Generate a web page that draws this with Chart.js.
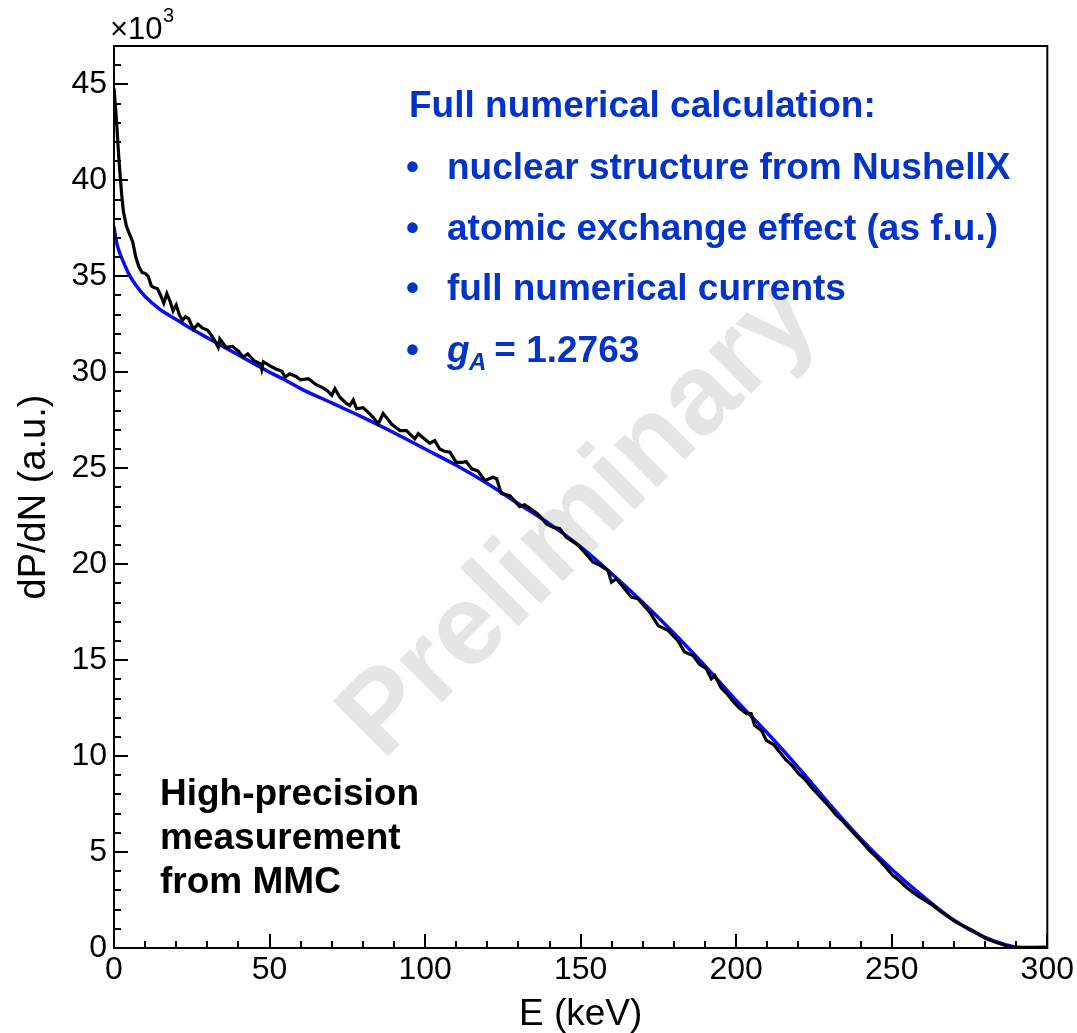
<!DOCTYPE html>
<html>
<head>
<meta charset="utf-8">
<script src="https://cdn.jsdelivr.net/npm/chart.js@4.4.1/dist/chart.umd.min.js"></script>
<style>
  html, body { margin: 0; padding: 0; background: #ffffff; }
  #wrap { width: 1077px; height: 1033px; }
</style>
</head>
<body>
<div id="wrap"><canvas id="spectrum" width="1077" height="1033"></canvas></div>
<script>
// ===============================
// Beta spectrum: MMC measurement vs full numerical calculation
// values in units of 10^3 (a.u.)
// ===============================

// measured spectrum (black)
const measE = [0, 0.5, 1, 1.5, 2, 2.5, 3, 4, 5, 6, 7, 8, 9, 10, 11, 12, 13, 14, 15, 16,
    17, 18, 19, 20, 21, 22, 23, 24, 25.5, 27, 28.5, 30, 31, 32, 33.5, 34, 36, 38, 40, 41.5,
    43, 45, 47, 47.5, 48, 50.5, 52.3, 54, 55, 56.5, 58.5, 60, 62.5, 65, 67, 68.5, 70, 71, 72.6, 74.5,
    75.8, 76.9, 78, 80, 81.5, 83.3, 84.9, 86.5, 88, 89.2, 91.9, 94, 96.7, 97.8, 100.4, 101.5, 103.1, 104.7, 106, 108,
    110, 112, 113.2, 115, 117, 119.2, 121.8, 123, 124.5, 127.2, 130.4, 132, 133.6, 136.3, 139, 141.1, 143.3, 145.4, 148.6, 150.8,
    154, 156.1, 158.8, 159.9, 161.5, 164.1, 166.3, 168.4, 172.2, 174.9, 178.1, 181.3, 183.4, 186.1, 188.2, 190.4, 192, 193.1, 195.2, 197.3,
    199, 201, 203.3, 204.8, 205.9, 208.1, 209.7, 212, 214, 216, 218, 220, 222, 224, 226, 228, 230, 232, 234, 236,
    238, 240, 242.8, 245, 247.1, 250.3, 252.5, 254.6, 256.8, 258.9, 261, 263.2, 265.3, 267.5, 270.7, 273, 276, 278, 280.3, 282.5,
    284.6, 286.7, 288.9, 292, 296, 300];
const measV = [44.8, 43.8, 42.6, 41.3, 40.2, 39.2, 38.4, 37.6, 37.2, 36.8, 36.0, 35.5, 35.2, 35.15, 35.0, 34.5, 34.4, 34.35, 34.0, 33.6,
    34.1, 33.7, 33.2, 33.5, 33.0, 32.7, 32.9, 32.8, 32.25, 32.5, 32.3, 32.2, 32.0, 31.75, 31.3, 31.74, 31.3, 31.35, 31.1, 30.78,
    30.96, 30.6, 30.45, 30.15, 30.55, 30.3, 30.15, 30.05, 29.75, 29.92, 29.78, 29.6, 29.66, 29.35, 29.2, 29.05, 28.8, 29.14, 28.7, 28.4,
    28.27, 28.55, 28.1, 28.15, 27.95, 27.65, 27.3, 27.85, 27.55, 27.3, 26.96, 26.96, 26.53, 26.8, 26.44, 26.3, 26.44, 26.0, 25.9, 25.83,
    25.3, 25.3, 25.35, 24.97, 24.85, 24.36, 24.53, 24.45, 23.67, 23.58, 23.0, 23.1, 22.93, 22.6, 22.1, 21.93, 21.85, 21.4, 21.06, 20.7,
    20.1, 19.95, 19.67, 19.06, 19.24, 18.72, 18.28, 18.2, 17.5, 16.8, 16.55, 16.0, 15.42, 15.24, 14.78, 14.55, 14.03, 14.2, 13.55, 13.2,
    12.85, 12.5, 12.21, 12.21, 11.6, 11.34, 10.82, 10.6, 10.2, 9.8, 9.5, 9.1, 8.8, 8.4, 8.05, 7.7, 7.35, 6.95, 6.65, 6.3,
    5.95, 5.6, 5.09, 4.75, 4.39, 3.79, 3.5, 3.18, 2.9, 2.66, 2.45, 2.22, 1.95, 1.7, 1.35, 1.15, 0.92, 0.7, 0.49, 0.35,
    0.23, 0.12, 0.05, 0.03, 0.04, 0.05];

// full numerical calculation (blue)
const calcE = [0, 0.5, 1, 2, 3, 5, 7, 10, 15, 20, 25, 30, 35, 40, 45, 50, 55, 60, 70, 80,
    90, 100, 110, 120, 130, 140, 150, 160, 170, 180, 190, 200, 210, 220, 230, 240, 250, 260, 270, 280,
    285, 290, 295, 300];
const calcV = [37.6, 37.05, 36.65, 36.15, 35.75, 35.05, 34.55, 33.95, 33.25, 32.75, 32.25, 31.8, 31.35, 30.9, 30.45, 30.0, 29.6, 29.15, 28.4, 27.65,
    26.85, 26.0, 25.15, 24.2, 23.15, 22.1, 20.9, 19.5, 18.0, 16.4, 14.7, 12.9, 11.2, 9.4, 7.5, 5.7, 4.1, 2.7, 1.45, 0.55,
    0.25, 0.04, 0, 0];

// axis ticks
const xTicks = [0, 50, 100, 150, 200, 250, 300];
const yTicks = [0, 5, 10, 15, 20, 25, 30, 35, 40, 45];
const xMinorStep = 10;
const yMinorStep = 1;

// annotation texts
const boxTitle = "Full numerical calculation:";
const boxBullets = ["nuclear structure from NushellX", "atomic exchange effect (as f.u.)", "full numerical currents"];
const measLines = ["High-precision", "measurement", "from MMC"];
const watermark = "Preliminary";

const FONT = "'Liberation Sans', Arial, Helvetica, sans-serif";
const BLUE_TEXT = "#0433c8";

// Frame and inward tick marks drawn from the library's scales
const frameTicks = {
    id: "frameTicks",
    afterDatasetsDraw(chart) {
        const { ctx, chartArea: a, scales: { x, y } } = chart;
        ctx.save();
        ctx.strokeStyle = "#000";
        ctx.lineWidth = 2;
        ctx.beginPath();
        for (let v = x.min; v <= x.max; v += xMinorStep) {
            const px = Math.round(x.getPixelForValue(v));
            const len = xTicks.includes(v) ? 14 : 7;
            ctx.moveTo(px, a.bottom);
            ctx.lineTo(px, a.bottom - len);
        }
        for (let v = y.min; v <= y.max; v += yMinorStep) {
            const py = Math.round(y.getPixelForValue(v));
            const len = yTicks.includes(v) ? 14 : 7;
            ctx.moveTo(a.left, py);
            ctx.lineTo(a.left + len, py);
        }
        ctx.stroke();
        ctx.strokeRect(a.left, a.top, a.right - a.left, a.bottom - a.top);
        ctx.restore();
    },
};

// Watermark below the curves, text boxes on top
const annotations = {
    id: "annotations",
    beforeDatasetsDraw(chart) {
        const { ctx } = chart;
        ctx.save();
        ctx.translate(580, 520);
        ctx.rotate(-45 * Math.PI / 180);
        ctx.font = "bold 114px " + FONT;
        ctx.fillStyle = "#e5e5e5";
        ctx.textAlign = "center";
        ctx.textBaseline = "middle";
        ctx.fillText(watermark, 0, 0);
        ctx.restore();
    },
    afterDraw(chart) {
        const { ctx } = chart;
        ctx.save();
        ctx.textBaseline = "alphabetic";
        ctx.textAlign = "left";

        // exponent label
        ctx.fillStyle = "#000";
        ctx.font = "31px " + FONT;
        ctx.fillText("\u00d710", 110, 39);
        ctx.font = "20px " + FONT;
        ctx.fillText("3", 163, 22);

        // calculation box
        ctx.fillStyle = BLUE_TEXT;
        ctx.font = "bold 37px " + FONT;
        ctx.fillText(boxTitle, 409, 117);
        const rows = [179, 240, 300];
        boxBullets.forEach((t, i) => {
            ctx.fillText("\u2022", 406, rows[i]);
            ctx.fillText(t, 447, rows[i]);
        });
        ctx.fillText("\u2022", 406, 362);
        ctx.font = "italic bold 37px " + FONT;
        ctx.fillText("g", 447, 362);
        ctx.font = "italic bold 24px " + FONT;
        ctx.fillText("A", 469, 370);
        ctx.font = "bold 37px " + FONT;
        ctx.fillText(" = 1.2763", 484, 362);

        // measurement label
        ctx.fillStyle = "#000";
        ctx.font = "bold 37px " + FONT;
        measLines.forEach((t, i) => ctx.fillText(t, 160, 805 + i * 44));
        ctx.restore();
    },
};

const ctx = document.getElementById("spectrum").getContext("2d");
new Chart(ctx, {
    type: "line",
    data: {
        datasets: [
            {
                label: "MMC measurement",
                data: measE.map((e, i) => ({ x: e, y: measV[i] })),
                borderColor: "#000000",
                borderWidth: 3.2,
                pointRadius: 0,
                tension: 0,
                fill: false,
            },
            {
                label: "Full numerical calculation",
                data: calcE.map((e, i) => ({ x: e, y: calcV[i] })),
                borderColor: "#0a0af5",
                borderWidth: 3.5,
                pointRadius: 0,
                cubicInterpolationMode: "monotone",
                fill: false,
            },
        ],
    },
    options: {
        responsive: false,
        animation: false,
        layout: { padding: { left: 0, top: 46, right: 29, bottom: 0 } },
        plugins: { legend: { display: false }, tooltip: { enabled: false } },
        scales: {
            x: {
                type: "linear",
                min: 0,
                max: 300,
                afterFit: (s) => { s.height = 85; },
                afterBuildTicks: (s) => { s.ticks = xTicks.map((v) => ({ value: v })); },
                ticks: { color: "#000", font: { size: 32, family: FONT }, padding: 3, maxRotation: 0 },
                grid: { display: false, drawTicks: false },
                border: { display: false },
                title: {
                    display: true,
                    text: "E (keV)",
                    color: "#000",
                    font: { size: 37, family: FONT, lineHeight: 1 },
                    padding: { top: 0, bottom: 0 },
                },
            },
            y: {
                min: 0,
                max: 47,
                afterFit: (s) => { s.width = 114; },
                afterBuildTicks: (s) => { s.ticks = yTicks.map((v) => ({ value: v })); },
                ticks: { color: "#000", font: { size: 32, family: FONT }, padding: 7 },
                grid: { display: false, drawTicks: false },
                border: { display: false },
                title: {
                    display: true,
                    text: "dP/dN (a.u.)",
                    color: "#000",
                    font: { size: 38, family: FONT, lineHeight: 1 },
                    padding: { top: 16, bottom: 0 },
                },
            },
        },
    },
    plugins: [annotations, frameTicks],
});
</script>
</body>
</html>
